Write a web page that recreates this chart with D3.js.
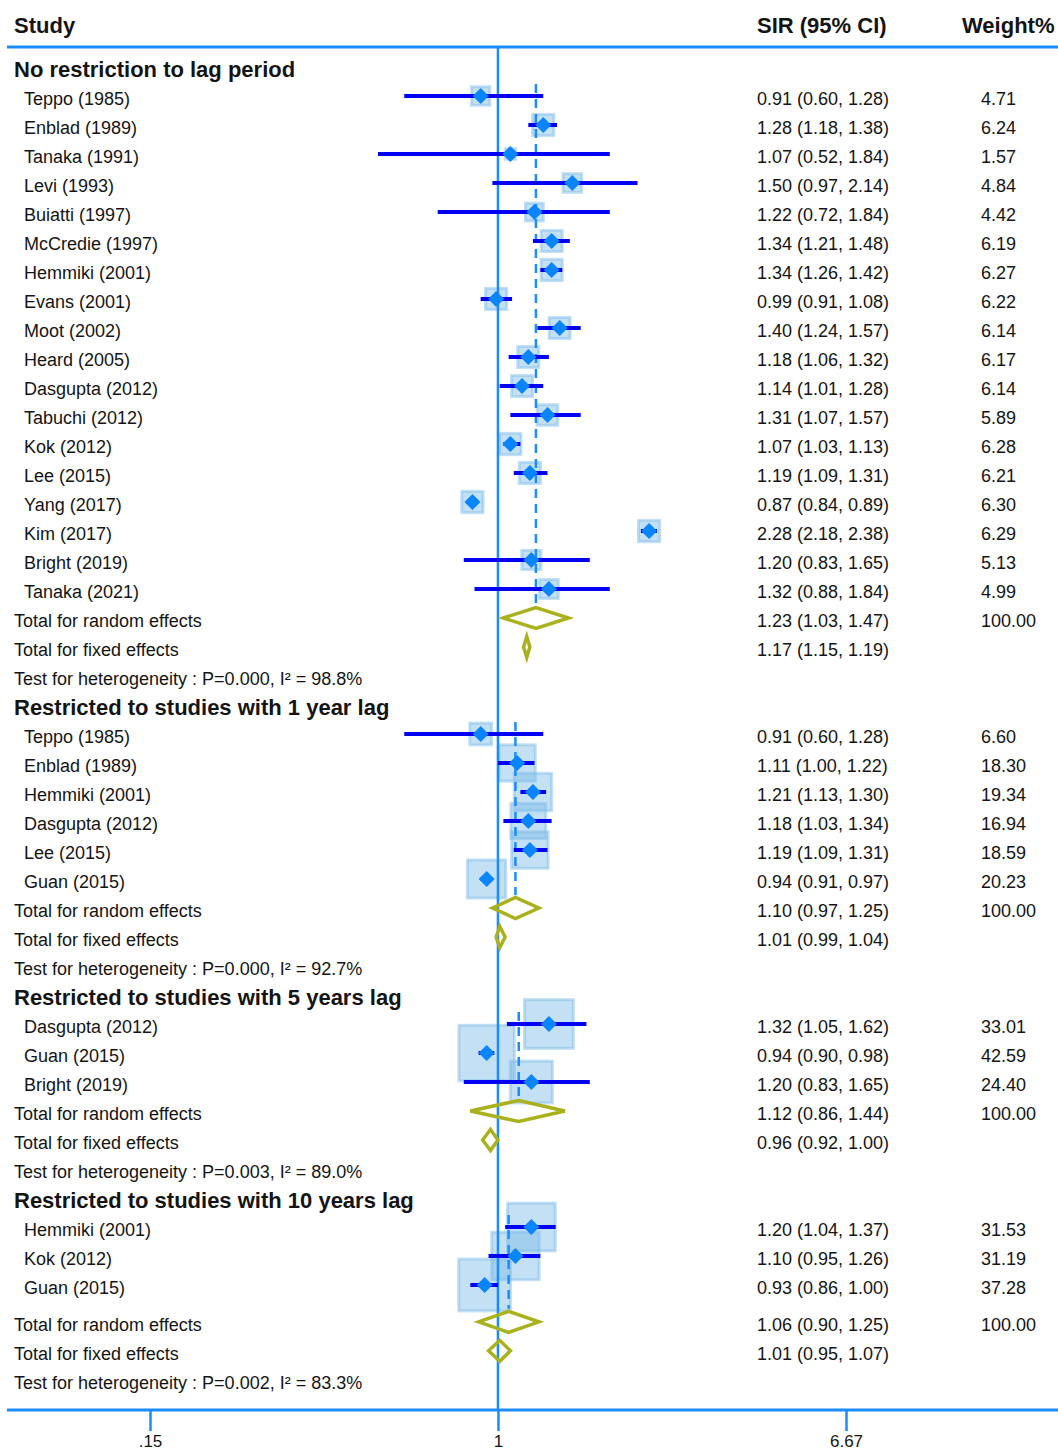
<!DOCTYPE html>
<html><head><meta charset="utf-8">
<script src="https://cdn.jsdelivr.net/npm/d3@7"></script>
<style>
body{margin:0;background:#fff}
svg{display:block;font-family:"Liberation Sans",Arial,sans-serif}
</style>
</head><body>
<svg id="chart" width="1058" height="1452"></svg>
<script>
// ---------------- DATA ----------------
const groupTitles = [
  "No restriction to lag period",
  "Restricted to studies with 1 year lag",
  "Restricted to studies with 5 years lag",
  "Restricted to studies with 10 years lag"
];
const studyNames = [
  ["Teppo (1985)","Enblad (1989)","Tanaka (1991)","Levi (1993)","Buiatti (1997)","McCredie (1997)","Hemmiki (2001)","Evans (2001)","Moot (2002)","Heard (2005)","Dasgupta (2012)","Tabuchi (2012)","Kok (2012)","Lee (2015)","Yang (2017)","Kim (2017)","Bright (2019)","Tanaka (2021)"],
  ["Teppo (1985)","Enblad (1989)","Hemmiki (2001)","Dasgupta (2012)","Lee (2015)","Guan (2015)"],
  ["Dasgupta (2012)","Guan (2015)","Bright (2019)"],
  ["Hemmiki (2001)","Kok (2012)","Guan (2015)"]
];
const sirValues = [
  [0.91,1.28,1.07,1.50,1.22,1.34,1.34,0.99,1.40,1.18,1.14,1.31,1.07,1.19,0.87,2.28,1.20,1.32],
  [0.91,1.11,1.21,1.18,1.19,0.94],
  [1.32,0.94,1.20],
  [1.20,1.10,0.93]
];
const ciLow = [
  [0.60,1.18,0.52,0.97,0.72,1.21,1.26,0.91,1.24,1.06,1.01,1.07,1.03,1.09,0.84,2.18,0.83,0.88],
  [0.60,1.00,1.13,1.03,1.09,0.91],
  [1.05,0.90,0.83],
  [1.04,0.95,0.86]
];
const ciHigh = [
  [1.28,1.38,1.84,2.14,1.84,1.48,1.42,1.08,1.57,1.32,1.28,1.57,1.13,1.31,0.89,2.38,1.65,1.84],
  [1.28,1.22,1.30,1.34,1.31,0.97],
  [1.62,0.98,1.65],
  [1.37,1.26,1.00]
];
const weights = [
  [4.71,6.24,1.57,4.84,4.42,6.19,6.27,6.22,6.14,6.17,6.14,5.89,6.28,6.21,6.30,6.29,5.13,4.99],
  [6.60,18.30,19.34,16.94,18.59,20.23],
  [33.01,42.59,24.40],
  [31.53,31.19,37.28]
];
const randomEst = [1.23,1.10,1.12,1.06];
const randomLo  = [1.03,0.97,0.86,0.90];
const randomHi  = [1.47,1.25,1.44,1.25];
const fixedEst  = [1.17,1.01,0.96,1.01];
const fixedLo   = [1.15,0.99,0.92,0.95];
const fixedHi   = [1.19,1.04,1.00,1.07];
const hetP      = ["0.000","0.000","0.003","0.002"];
const hetI2     = ["98.8","92.7","89.0","83.3"];
const tickValues = [0.15, 1, 6.67];
const tickLabels = [".15", "1", "6.67"];

// ---------------- LAYOUT ----------------
const W = 1058, H = 1452;
const svg = d3.select("#chart");
const blue = "#1a8cff", ciBlue = "#0000f5", markBlue = "#0a84ff", olive = "#a9b11c", textCol = "#141414";
const summaryGapBefore = [0, 0, 0, 0.27];

const x = d3.scaleLog().domain([0.15, 6.67]).range([150, 846]);

// build rows
const rows = [];
let idx = 0;
groupTitles.forEach((t, g) => {
  rows.push({type: "title", g, idx: idx++, label: t});
  studyNames[g].forEach((s, i) => {
    rows.push({type: "study", g, idx: idx++, label: s, est: sirValues[g][i], lo: ciLow[g][i], hi: ciHigh[g][i], w: weights[g][i]});
  });
  idx += summaryGapBefore[g];
  rows.push({type: "random", g, idx: idx++, label: "Total for random effects", est: randomEst[g], lo: randomLo[g], hi: randomHi[g], w: 100});
  rows.push({type: "fixed", g, idx: idx++, label: "Total for fixed effects", est: fixedEst[g], lo: fixedLo[g], hi: fixedHi[g]});
  rows.push({type: "het", g, idx: idx++, label: `Test for heterogeneity : P=${hetP[g]}, I\u00B2 = ${hetI2[g]}%`});
});
const y = d3.scaleLinear().domain([0, 45.27]).range([69, 69 + 45.27 * 29]);

const f2 = d3.format(".2f");

// header
const hdr = svg.append("g").attr("font-weight", "bold").attr("font-size", 22).attr("fill", textCol);
hdr.append("text").attr("x", 14).attr("y", 33).text("Study");
hdr.append("text").attr("x", 757).attr("y", 33).text("SIR (95% CI)");
hdr.append("text").attr("x", 962).attr("y", 33).text("Weight%");

// horizontal rules
svg.append("line").attr("x1", 7).attr("x2", W).attr("y1", 47).attr("y2", 47)
  .attr("stroke", blue).attr("stroke-width", 3);
const axisY = 1410;
svg.append("line").attr("x1", 7).attr("x2", W).attr("y1", axisY).attr("y2", axisY)
  .attr("stroke", blue).attr("stroke-width", 3);

// boxes
const studies = rows.filter(r => r.type === "study");
const boxK = 8.5;
svg.append("g").selectAll("rect").data(studies).join("rect")
  .attr("x", d => x(d.est) - boxK * Math.sqrt(d.w) / 2)
  .attr("y", d => y(d.idx) - 2 - boxK * Math.sqrt(d.w) / 2)
  .attr("width", d => boxK * Math.sqrt(d.w))
  .attr("height", d => boxK * Math.sqrt(d.w))
  .attr("fill", "#7dbbe9").attr("fill-opacity", 0.45)
  .attr("stroke", "#7dbbe9").attr("stroke-opacity", 0.45).attr("stroke-width", 3);

// reference line at 1
svg.append("line").attr("x1", x(1)).attr("x2", x(1)).attr("y1", 47).attr("y2", axisY)
  .attr("stroke", blue).attr("stroke-width", 2.5);

// dashed overall lines
groupTitles.forEach((t, g) => {
  const first = rows.find(r => r.type === "study" && r.g === g);
  const rnd = rows.find(r => r.type === "random" && r.g === g);
  svg.append("line")
    .attr("x1", x(randomEst[g])).attr("x2", x(randomEst[g]))
    .attr("y1", y(first.idx) - 14).attr("y2", y(rnd.idx) - 15)
    .attr("stroke", blue).attr("stroke-width", 2.5).attr("stroke-dasharray", "9,6");
});

// CI lines
svg.append("g").selectAll("line").data(studies).join("line")
  .attr("x1", d => x(d.lo)).attr("x2", d => x(d.hi))
  .attr("y1", d => y(d.idx) - 2).attr("y2", d => y(d.idx) - 2)
  .attr("stroke", ciBlue).attr("stroke-width", 4);

// point markers
svg.append("g").selectAll("path").data(studies).join("path")
  .attr("d", d => {
    const cx = x(d.est), cy = y(d.idx) - 2, s = 8;
    return `M${cx - s},${cy}L${cx},${cy - s}L${cx + s},${cy}L${cx},${cy + s}Z`;
  })
  .attr("fill", markBlue);

// summary diamonds
const sums = rows.filter(r => r.type === "random" || r.type === "fixed");
svg.append("g").selectAll("path").data(sums).join("path")
  .attr("d", d => {
    const cy = y(d.idx) - 2, h = 10.5;
    return `M${x(d.lo)},${cy}L${x(d.est)},${cy - h}L${x(d.hi)},${cy}L${x(d.est)},${cy + h}Z`;
  })
  .attr("fill", "none").attr("stroke", olive).attr("stroke-width", 3.5).attr("stroke-linejoin", "miter");

// text labels
const tg = svg.append("g").attr("fill", textCol);
tg.selectAll("text.lbl").data(rows).join("text").attr("class", "lbl")
  .attr("x", d => d.type === "study" ? 24 : 14)
  .attr("y", d => y(d.idx) + (d.type === "title" ? 8 : 7))
  .attr("font-size", d => d.type === "title" ? 22 : 18)
  .attr("font-weight", d => d.type === "title" ? "bold" : "normal")
  .text(d => d.label);
const withCI = rows.filter(r => r.est !== undefined);
tg.selectAll("text.ci").data(withCI).join("text").attr("class", "ci")
  .attr("x", 757).attr("y", d => y(d.idx) + 7).attr("font-size", 18)
  .text(d => `${f2(d.est)} (${f2(d.lo)}, ${f2(d.hi)})`);
const withW = rows.filter(r => r.w !== undefined);
tg.selectAll("text.w").data(withW).join("text").attr("class", "w")
  .attr("x", 981).attr("y", d => y(d.idx) + 7).attr("font-size", 18)
  .text(d => f2(d.w));

// axis
const axis = d3.axisBottom(x).tickValues(tickValues).tickSize(21).tickPadding(4)
  .tickFormat((d, i) => tickLabels[i]);
const ag = svg.append("g").attr("transform", `translate(0,${axisY})`).call(axis);
ag.select(".domain").remove();
ag.selectAll(".tick line").attr("stroke", blue).attr("stroke-width", 2.5);
ag.selectAll(".tick text").attr("font-size", 17).attr("fill", textCol)
  .attr("font-family", "'Liberation Sans',Arial,sans-serif");
</script>
</body></html>
